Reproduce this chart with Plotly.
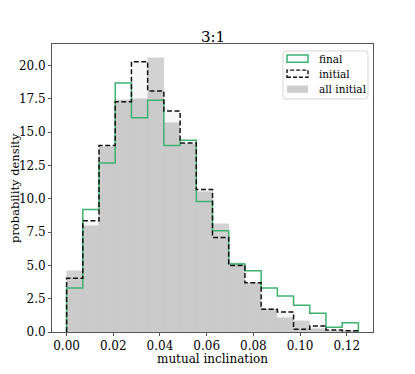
import plotly.graph_objects as go

# bin edges (18 equal bins from 0 to 0.125)
bin_edges = [0.0, 0.006944, 0.013889, 0.020833, 0.027778, 0.034722, 0.041667,
             0.048611, 0.055556, 0.0625, 0.069444, 0.076389, 0.083333, 0.090278,
             0.097222, 0.104167, 0.111111, 0.118056, 0.125]

# probability densities
final_density = [3.3, 9.2, 12.7, 18.7, 16.1, 17.4, 14.0, 14.4, 9.8, 7.6,
                 5.1, 4.6, 3.3, 2.7, 2.0, 1.4, 0.35, 0.7]
initial_density = [4.03, 8.35, 14.0, 17.3, 20.3, 18.1, 16.6, 14.2, 10.7, 7.1,
                   5.0, 3.7, 1.7, 1.5, 0.2, 0.45, 0.15, 0.1]
all_initial_density = [4.6, 7.97, 13.9, 17.4, 17.5, 20.6, 15.7, 14.1, 10.5, 8.1,
                       5.2, 3.7, 1.7, 1.05, 0.8, 0.25, 0.1, 0.05]

x_ticks = [0.0, 0.02, 0.04, 0.06, 0.08, 0.10, 0.12]
y_ticks = [0.0, 2.5, 5.0, 7.5, 10.0, 12.5, 15.0, 17.5, 20.0]

# the page body keeps its default 8px margin, so the figure is made smaller
OFF = 8
W, H = 415 - OFF, 374 - OFF
ML, MR, MT, MB = 52 - OFF, 42, 44 - OFF, 42
FONT = 'DejaVu Serif'
GREEN = '#3cb371'
SPINE = '#555555'

lefts = bin_edges[:-1]
widths = [b - a for a, b in zip(bin_edges[:-1], bin_edges[1:])]


def step_xy(dens):
    # matplotlib-style 'step' outline of a histogram
    return [bin_edges[0]] + bin_edges, [0] + dens + [0]


def px(x, y):
    # page pixel position -> paper coordinates
    x, y = x - OFF, y - OFF
    return (x - ML) / (W - ML - MR), (H - MB - y) / (H - MT - MB)


fig = go.Figure()

fig.add_trace(go.Bar(
    x=lefts, y=all_initial_density, width=widths, offset=0,
    marker=dict(color='#d2d2d2', line=dict(width=0.4, color='#cdcdcd')),
    hoverinfo='none'
))
# faint fill of the initial histogram (darkens the overlap)
fig.add_trace(go.Bar(
    x=lefts, y=initial_density, width=widths, offset=0,
    marker=dict(color='rgba(0,0,0,0.03)', line=dict(width=0)),
    hoverinfo='none'
))

fx, fy = step_xy(final_density)
fig.add_trace(go.Scatter(x=fx, y=fy, mode='lines', line_shape='hv',
                         line=dict(color=GREEN, width=1.5), hoverinfo='none'))
ix, iy = step_xy(initial_density)
fig.add_trace(go.Scatter(x=ix, y=iy, mode='lines', line_shape='hv',
                         line=dict(color='#111111', width=1.5, dash='5px,2.5px'),
                         hoverinfo='none'))

axis_common = dict(
    showgrid=False, zeroline=False, showline=True, mirror=True, automargin=False,
    linecolor=SPINE, linewidth=1, ticks='outside', ticklen=3, tickwidth=1,
    tickcolor=SPINE, tickfont=dict(family=FONT, size=12, color='black'),
)

fig.update_layout(
    width=W, height=H,
    margin=dict(l=ML, r=MR, t=MT, b=MB, autoexpand=False),
    plot_bgcolor='white', paper_bgcolor='white',
    barmode='overlay', bargap=0, showlegend=False,
    xaxis=dict(range=[-0.00625, 0.13125], tickvals=x_ticks,
               tickformat='.2f', **axis_common),
    yaxis=dict(range=[0, 21.63], tickvals=y_ticks, tickformat='.1f',
               **axis_common),
)

# title and axis labels
ann = []
tx, ty = px(212.5, 37)
ann.append(dict(x=tx, y=ty, xref='paper', yref='paper', text='3:1',
                showarrow=False, font=dict(family=FONT, size=15, color='black'),
                xanchor='center', yanchor='middle'))
lx, ly = px(212.5, 359)
ann.append(dict(x=lx, y=ly, xref='paper', yref='paper', text='mutual inclination',
                showarrow=False, font=dict(family=FONT, size=12, color='black'),
                xanchor='center', yanchor='middle'))
yx, yy = px(15, 188)
ann.append(dict(x=yx, y=yy, xref='paper', yref='paper', text='probability density',
                showarrow=False, textangle=-90, borderpad=0,
                font=dict(family=FONT, size=11.5, color='black'),
                xanchor='center', yanchor='middle'))

# legend drawn by hand to mimic the matplotlib patches
shapes = []
x0, y1 = px(283, 51)
x1, y0 = px(368, 99)
rx, ry = 3 / (W - ML - MR), 3 / (H - MT - MB)
shapes.append(dict(
    type='path', xref='paper', yref='paper',
    path=(f'M {x0+rx},{y1} L {x1-rx},{y1} Q {x1},{y1} {x1},{y1-ry} '
          f'L {x1},{y0+ry} Q {x1},{y0} {x1-rx},{y0} L {x0+rx},{y0} '
          f'Q {x0},{y0} {x0},{y0+ry} L {x0},{y1-ry} Q {x0},{y1} {x0+rx},{y1} Z'),
    line=dict(color='#d6d6d6', width=1), fillcolor='rgba(255,255,255,0.8)'))

labels = ['final', 'initial', 'all initial']
rows = [58.7, 73.7, 89.2]
for lab, yc in zip(labels, rows):
    hx0, hy1 = px(287, yc - 3.6)
    hx1, hy0 = px(308, yc + 3.6)
    if lab == 'final':
        sty = dict(line=dict(color=GREEN, width=1.5), fillcolor='rgba(0,0,0,0)')
    elif lab == 'initial':
        sty = dict(line=dict(color='#111111', width=1.4, dash='4px,2px'),
                   fillcolor='rgba(0,0,0,0)')
    else:
        sty = dict(line=dict(width=0), fillcolor='#cccccc')
    shapes.append(dict(type='rect', xref='paper', yref='paper',
                       x0=hx0, x1=hx1, y0=hy0, y1=hy1, **sty))
    ax, ay = px(316.5, yc)
    ann.append(dict(x=ax, y=ay, xref='paper', yref='paper', text=lab,
                    showarrow=False, xanchor='left', yanchor='middle',
                    font=dict(family=FONT, size=10.5, color='black')))

fig.update_layout(annotations=ann, shapes=shapes)

fig.write_html("out.html")
